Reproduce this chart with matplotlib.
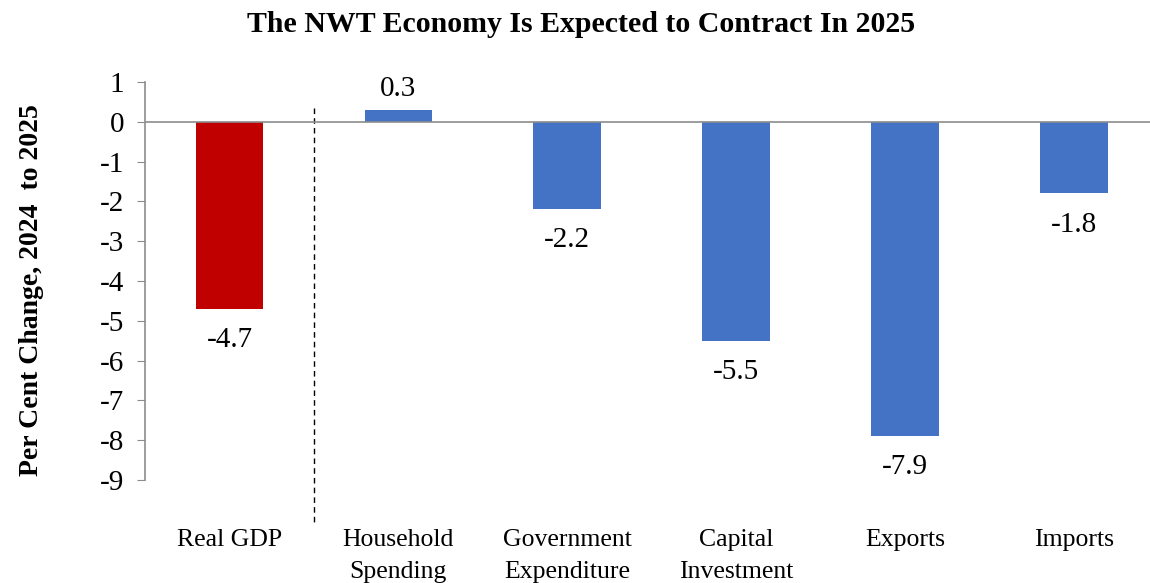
import matplotlib.pyplot as plt

# chart data
categories = ['Real GDP', 'Household\nSpending', 'Government\nExpenditure',
              'Capital\nInvestment', 'Exports', 'Imports']
values = [-4.7, 0.3, -2.2, -5.5, -7.9, -1.8]
colors = ['#C00000', '#4472C4', '#4472C4', '#4472C4', '#4472C4', '#4472C4']
yticks = list(range(1, -10, -1))

serif = ['Liberation Serif', 'DejaVu Serif']
plt.rcParams['font.family'] = serif

fig = plt.figure(figsize=(11.5, 5.83), dpi=100)
ax = fig.add_axes([0.1261, 0.1767, 0.881, 0.6826])

x = range(len(categories))
ax.bar(x, values, width=0.4, color=colors, zorder=2)

# data labels
for i, v in enumerate(values):
    if v >= 0:
        ax.annotate('%.1f' % v, (i, v), xytext=(0, 6), textcoords='offset points',
                    ha='center', va='bottom', fontsize=21)
    else:
        ax.annotate('%.1f' % v, (i, v), xytext=(0, -13), textcoords='offset points',
                    ha='center', va='top', fontsize=21)

# zero line and separator
ax.axhline(0, color='#8c8c8c', lw=1.2, zorder=3)
ax.plot([0.5, 0.5], [0.35, -10.15], color='black', lw=1, ls=(0, (4, 3)), clip_on=False)

ax.set_xlim(-0.5, 5.5)
ax.set_ylim(-9, 1)
ax.set_yticks(yticks)
ax.set_yticklabels([str(t) for t in yticks], fontsize=21)
ax.tick_params(axis='y', direction='out', length=6, color='#8c8c8c', pad=9)
ax.set_xticks(list(x))
ax.set_xticklabels(categories, fontsize=18.5, linespacing=1.6, va='top')
ax.tick_params(axis='x', length=0, pad=35)

for s in ['top', 'right', 'bottom']:
    ax.spines[s].set_visible(False)
ax.spines['left'].set_color('#8c8c8c')
ax.spines['left'].set_linewidth(1.2)

fig.text(32 / 1150, 1 - 290 / 583, 'Per Cent Change, 2024  to 2025', rotation=90,
         ha='center', va='center', fontsize=20, fontweight='bold')
fig.text(0.505, 0.958, 'The NWT Economy Is Expected to Contract In 2025',
         ha='center', va='center', fontsize=21.5, fontweight='bold')

fig.savefig('out.png', dpi=100)
